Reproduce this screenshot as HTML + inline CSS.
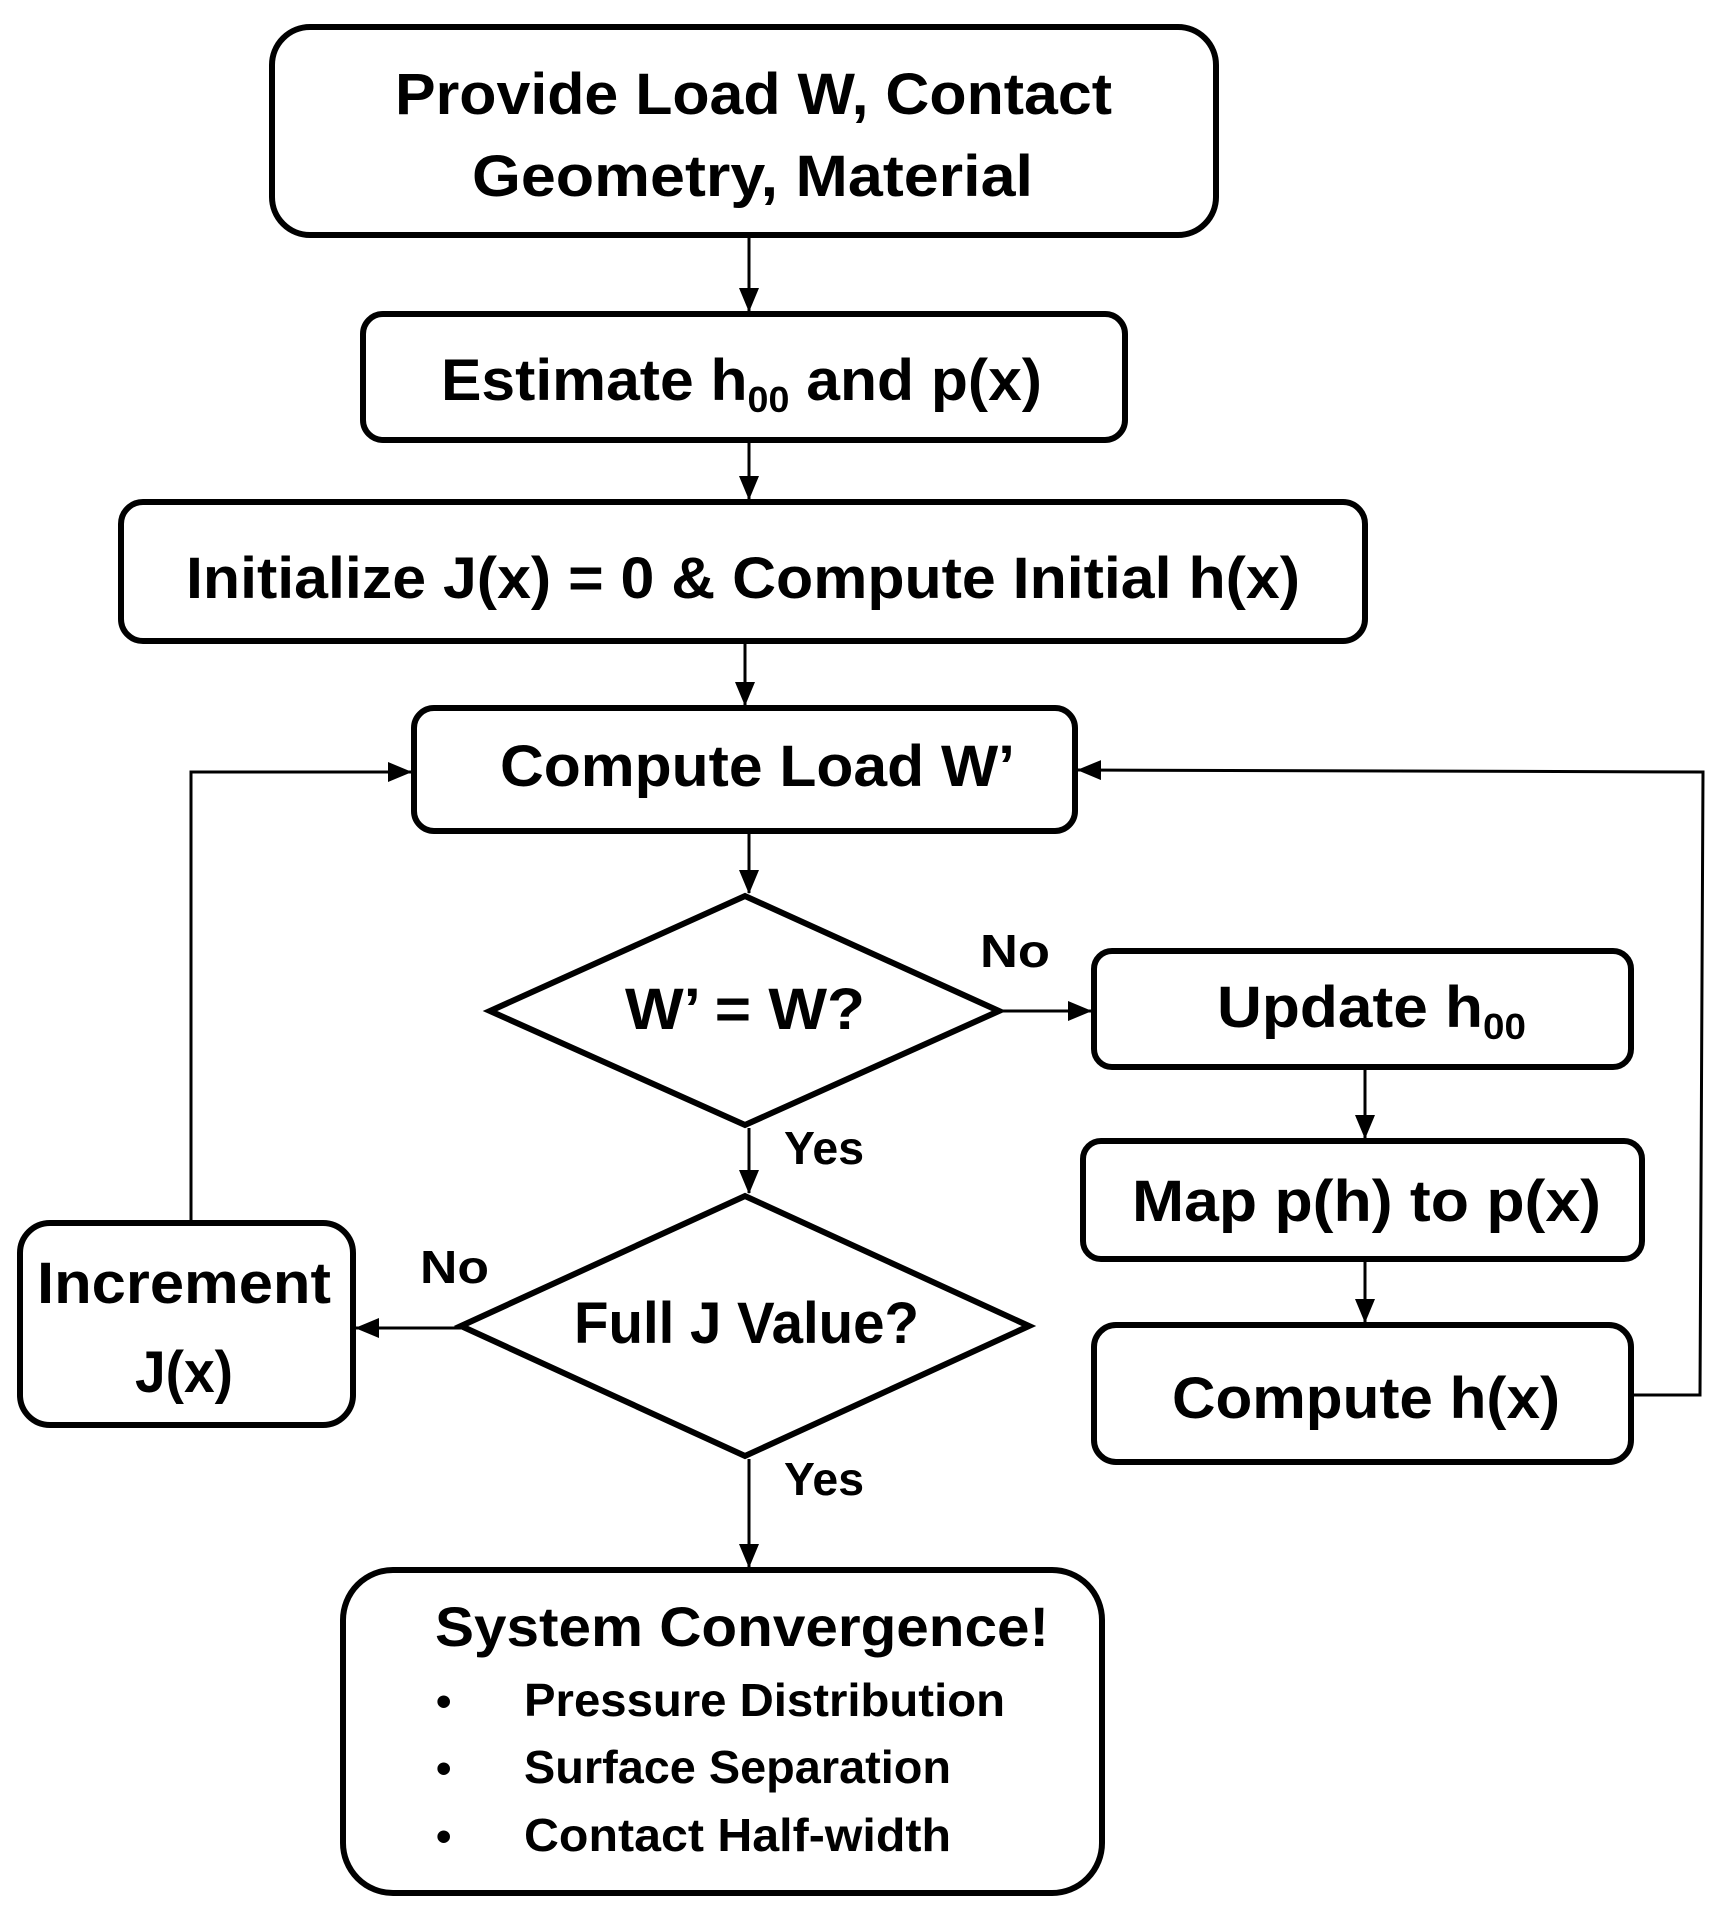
<!DOCTYPE html>
<html><head><meta charset="utf-8"><style>html,body{margin:0;padding:0;background:#fff}svg{display:block}</style></head>
<body>
<svg width="1728" height="1917" viewBox="0 0 1728 1917" xmlns="http://www.w3.org/2000/svg" font-family="'Liberation Sans', sans-serif" font-weight="bold">
<defs><marker id="a" markerWidth="10" markerHeight="10" refX="9" refY="5" orient="auto" markerUnits="userSpaceOnUse"><path d="M0,0 L10,5 L0,10 z" fill="#000"/></marker>
<marker id="b" markerWidth="24" markerHeight="20" refX="23" refY="10" orient="auto" markerUnits="userSpaceOnUse"><path d="M0,0 L24,10 L0,20 z" fill="#000"/></marker></defs>
<g fill="none" stroke="#000" stroke-width="6">
<rect x="272" y="27" width="944" height="208" rx="38"/>
<rect x="363" y="314" width="762" height="126" rx="20"/>
<rect x="121" y="502" width="1244" height="139" rx="22"/>
<rect x="414" y="708" width="661" height="123" rx="20"/>
<polygon points="490,1011 745,896 999,1011 745,1125"/>
<rect x="1094" y="951" width="537" height="116" rx="18"/>
<rect x="1083" y="1141" width="559" height="118" rx="18"/>
<rect x="1094" y="1325" width="537" height="137" rx="22"/>
<polygon points="461,1326 745,1196 1029,1326 745,1456"/>
<rect x="20" y="1223" width="333" height="202" rx="30"/>
<rect x="343" y="1570" width="759" height="323" rx="50"/>
</g>
<g fill="none" stroke="#000" stroke-width="3" marker-end="url(#b)">
<line x1="749" y1="238" x2="749" y2="311"/>
<line x1="749" y1="443" x2="749" y2="499"/>
<line x1="745" y1="644" x2="745" y2="705"/>
<line x1="749" y1="834" x2="749" y2="893"/>
<line x1="749" y1="1128" x2="749" y2="1193"/>
<line x1="749" y1="1459" x2="749" y2="1567"/>
<line x1="999" y1="1011" x2="1091" y2="1011"/>
<line x1="461" y1="1328" x2="356" y2="1328"/>
<line x1="1365" y1="1070" x2="1365" y2="1138"/>
<line x1="1365" y1="1262" x2="1365" y2="1322"/>
<polyline points="191,1223 191,772 411,772"/>
<polyline points="1631,1395 1700,1395 1703,772 1078,770"/>
</g>
<g fill="#000">
<text x="395" y="114" font-size="58" textLength="717" lengthAdjust="spacingAndGlyphs">Provide Load W,  Contact</text>
<text x="472" y="196" font-size="58" textLength="561" lengthAdjust="spacingAndGlyphs">Geometry, Material</text>
<text x="441" y="400" font-size="58" textLength="601" lengthAdjust="spacingAndGlyphs">Estimate h<tspan font-size="36" dy="12">00</tspan><tspan dy="-12"> and p(x)</tspan></text>
<text x="186" y="598" font-size="58" textLength="1114" lengthAdjust="spacingAndGlyphs">Initialize J(x) = 0 &amp; Compute Initial h(x)</text>
<text x="500" y="786" font-size="58" textLength="515" lengthAdjust="spacingAndGlyphs">Compute Load W’</text>
<text x="625" y="1029" font-size="58" textLength="240" lengthAdjust="spacingAndGlyphs">W’ = W?</text>
<text x="1217" y="1027" font-size="58" textLength="309" lengthAdjust="spacingAndGlyphs">Update h<tspan font-size="36" dy="12">00</tspan></text>
<text x="1132" y="1221" font-size="58" textLength="469" lengthAdjust="spacingAndGlyphs">Map p(h) to p(x)</text>
<text x="1172" y="1418" font-size="58" textLength="388" lengthAdjust="spacingAndGlyphs">Compute h(x)</text>
<text x="574" y="1343" font-size="58" textLength="345" lengthAdjust="spacingAndGlyphs">Full J Value?</text>
<text x="37" y="1303" font-size="58" textLength="294" lengthAdjust="spacingAndGlyphs">Increment</text>
<text x="135" y="1392" font-size="58" textLength="98" lengthAdjust="spacingAndGlyphs">J(x)</text>
<text x="435" y="1646" font-size="56" textLength="614" lengthAdjust="spacingAndGlyphs">System Convergence!</text>
<text x="436" y="1716" font-size="44">•</text>
<text x="436" y="1783" font-size="44">•</text>
<text x="436" y="1851" font-size="44">•</text>
<text x="524" y="1716" font-size="46" textLength="481" lengthAdjust="spacingAndGlyphs">Pressure Distribution</text>
<text x="524" y="1783" font-size="46" textLength="427" lengthAdjust="spacingAndGlyphs">Surface Separation</text>
<text x="524" y="1851" font-size="46" textLength="427" lengthAdjust="spacingAndGlyphs">Contact Half-width</text>
<text x="980" y="967" font-size="46" textLength="70" lengthAdjust="spacingAndGlyphs">No</text>
<text x="784" y="1164" font-size="46" textLength="80" lengthAdjust="spacingAndGlyphs">Yes</text>
<text x="420" y="1283" font-size="46" textLength="69" lengthAdjust="spacingAndGlyphs">No</text>
<text x="784" y="1495" font-size="46" textLength="80" lengthAdjust="spacingAndGlyphs">Yes</text>
</g>
</svg>
</body></html>
